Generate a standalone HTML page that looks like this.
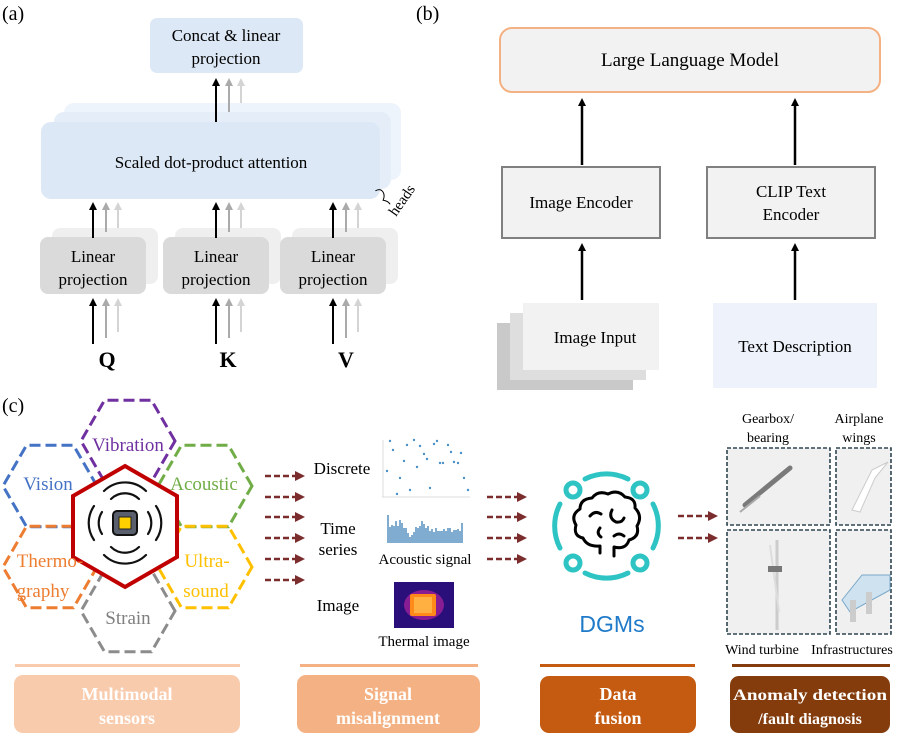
<!DOCTYPE html>
<html><head><meta charset="utf-8"><style>
html,body{margin:0;padding:0;background:#fff}
svg{display:block;font-family:"Liberation Serif",serif}
</style></head><body>
<svg width="897" height="737" viewBox="0 0 897 737" xmlns="http://www.w3.org/2000/svg">
<defs>
<marker id="ab" markerWidth="8" markerHeight="8" refX="4" refY="4" orient="auto" markerUnits="userSpaceOnUse"><path d="M0,0 L8,4 L0,8 z" fill="#000"/></marker>
<marker id="ag" markerWidth="8" markerHeight="8" refX="4" refY="4" orient="auto" markerUnits="userSpaceOnUse"><path d="M0,0 L8,4 L0,8 z" fill="#aaa"/></marker>
<marker id="al" markerWidth="8" markerHeight="8" refX="4" refY="4" orient="auto" markerUnits="userSpaceOnUse"><path d="M0,0 L8,4 L0,8 z" fill="#d4d4d4"/></marker>
<marker id="ar" markerWidth="10" markerHeight="10" refX="2" refY="5" orient="auto" markerUnits="userSpaceOnUse"><path d="M0,0 L10,5 L0,10 z" fill="#7b2c2c"/></marker>
</defs>

<!-- (a) -->
<text x="2" y="20" font-size="20">(a)</text>
<rect x="150" y="18" width="153" height="55" rx="7" fill="#dce8f5"/>
<text x="226" y="41" font-size="17" text-anchor="middle">Concat &amp; linear</text>
<text x="226" y="64" font-size="17" text-anchor="middle">projection</text>
<rect x="64" y="103" width="337" height="77" rx="10" fill="#eef4fb"/>
<rect x="54" y="112" width="337" height="77" rx="10" fill="#e5eef8"/>
<rect x="41" y="122" width="339" height="77" rx="10" fill="#dce8f5"/>
<text x="211" y="168" font-size="17" text-anchor="middle">Scaled dot-product attention</text>
<path d="M380,188 q6,0 6,5 q0,4 -4,7 q4,3 4,7" fill="none" stroke="#000" stroke-width="1" transform="rotate(-30 383 198)"/>
<text x="396" y="217" font-size="15" transform="rotate(-55 396 217)">heads</text>

<g>
<rect x="52" y="228" width="106" height="56" rx="8" fill="#efefef"/>
<rect x="175" y="228" width="106" height="56" rx="8" fill="#efefef"/>
<rect x="292" y="228" width="106" height="56" rx="8" fill="#efefef"/>
<rect x="40" y="237" width="106" height="57" rx="8" fill="#dadada"/>
<rect x="163" y="237" width="106" height="57" rx="8" fill="#dadada"/>
<rect x="280" y="237" width="106" height="57" rx="8" fill="#dadada"/>
<text font-size="17" text-anchor="middle"><tspan x="93" y="262">Linear</tspan><tspan x="93" y="285">projection</tspan></text>
<text font-size="17" text-anchor="middle"><tspan x="216" y="262">Linear</tspan><tspan x="216" y="285">projection</tspan></text>
<text font-size="17" text-anchor="middle"><tspan x="333" y="262">Linear</tspan><tspan x="333" y="285">projection</tspan></text>
</g>
<g stroke-width="2">
<line x1="216" y1="122" x2="216" y2="82" stroke="#000" marker-end="url(#ab)"/>
<line x1="229" y1="112" x2="229" y2="82" stroke="#aaa" marker-end="url(#ag)"/>
<line x1="241" y1="103" x2="241" y2="82" stroke="#d4d4d4" marker-end="url(#al)"/>
<line x1="93" y1="238" x2="93" y2="206" stroke="#000" marker-end="url(#ab)"/>
<line x1="106" y1="232" x2="106" y2="206" stroke="#aaa" marker-end="url(#ag)"/>
<line x1="118" y1="228" x2="118" y2="206" stroke="#d4d4d4" marker-end="url(#al)"/>
<line x1="216" y1="238" x2="216" y2="206" stroke="#000" marker-end="url(#ab)"/>
<line x1="229" y1="232" x2="229" y2="206" stroke="#aaa" marker-end="url(#ag)"/>
<line x1="241" y1="228" x2="241" y2="206" stroke="#d4d4d4" marker-end="url(#al)"/>
<line x1="333" y1="238" x2="333" y2="206" stroke="#000" marker-end="url(#ab)"/>
<line x1="346" y1="232" x2="346" y2="206" stroke="#aaa" marker-end="url(#ag)"/>
<line x1="358" y1="228" x2="358" y2="206" stroke="#d4d4d4" marker-end="url(#al)"/>
<line x1="93" y1="344" x2="93" y2="302" stroke="#000" marker-end="url(#ab)"/>
<line x1="106" y1="338" x2="106" y2="302" stroke="#aaa" marker-end="url(#ag)"/>
<line x1="118" y1="332" x2="118" y2="302" stroke="#d4d4d4" marker-end="url(#al)"/>
<line x1="216" y1="344" x2="216" y2="302" stroke="#000" marker-end="url(#ab)"/>
<line x1="229" y1="338" x2="229" y2="302" stroke="#aaa" marker-end="url(#ag)"/>
<line x1="241" y1="332" x2="241" y2="302" stroke="#d4d4d4" marker-end="url(#al)"/>
<line x1="333" y1="344" x2="333" y2="302" stroke="#000" marker-end="url(#ab)"/>
<line x1="346" y1="338" x2="346" y2="302" stroke="#aaa" marker-end="url(#ag)"/>
<line x1="358" y1="332" x2="358" y2="302" stroke="#d4d4d4" marker-end="url(#al)"/>
</g>
<text x="107" y="367" font-size="22" font-weight="bold" text-anchor="middle">Q</text>
<text x="228" y="367" font-size="22" font-weight="bold" text-anchor="middle">K</text>
<text x="346" y="367" font-size="22" font-weight="bold" text-anchor="middle">V</text>

<!-- (b) -->
<text x="416" y="20" font-size="20">(b)</text>
<rect x="500" y="28" width="380" height="64" rx="12" fill="#f2f2f2" stroke="#f4b183" stroke-width="2"/>
<text x="690" y="66" font-size="19" text-anchor="middle">Large Language Model</text>
<rect x="502" y="167" width="158" height="71" fill="#f2f2f2" stroke="#808080" stroke-width="2"/>
<text x="581" y="208" font-size="17" text-anchor="middle">Image Encoder</text>
<rect x="707" y="167" width="168" height="71" fill="#f2f2f2" stroke="#808080" stroke-width="2"/>
<text x="791" y="197" font-size="17" text-anchor="middle">CLIP Text</text>
<text x="791" y="220" font-size="17" text-anchor="middle">Encoder</text>
<g stroke="#000" stroke-width="2.5">
<line x1="582" y1="165" x2="582" y2="102" marker-end="url(#ab)"/>
<line x1="795" y1="165" x2="795" y2="102" marker-end="url(#ab)"/>
<line x1="582" y1="300" x2="582" y2="247" marker-end="url(#ab)"/>
<line x1="795" y1="300" x2="795" y2="247" marker-end="url(#ab)"/>
</g>
<rect x="497" y="323" width="136" height="67" fill="#c9c9c9"/>
<rect x="510" y="313" width="136" height="67" fill="#dedede"/>
<rect x="523" y="303" width="136" height="67" fill="#f2f2f2"/>
<text x="595" y="343" font-size="17" text-anchor="middle">Image Input</text>
<rect x="713" y="303" width="164" height="85" fill="#eef3fb"/>
<text x="795" y="352" font-size="17" text-anchor="middle">Text Description</text>

<!-- (c) -->
<text x="2" y="412" font-size="20">(c)</text>
<g fill="none" stroke-width="3" stroke-dasharray="11,5">
<polygon points="175,441 151.5,400.3 104.5,400.3 81,441 104.5,481.7 151.5,481.7" stroke="#7030a0"/>
<polygon points="97,486 73.5,445.3 26.5,445.3 3,486 26.5,526.7 73.5,526.7" stroke="#4472c4"/>
<polygon points="252,486 228.5,445.3 181.5,445.3 158,486 181.5,526.7 228.5,526.7" stroke="#70ad47"/>
<polygon points="97,567 73.5,526.3 26.5,526.3 3,567 26.5,607.7 73.5,607.7" stroke="#ed7d31"/>
<polygon points="252,567 228.5,526.3 181.5,526.3 158,567 181.5,607.7 228.5,607.7" stroke="#ffc000"/>
<polygon points="175,611 151.5,570.3 104.5,570.3 81,611 104.5,651.7 151.5,651.7" stroke="#8c8c8c"/>
</g>
<polygon points="125,466 177,496 177,557 125,587 73,557 73,496" fill="#fff" stroke="#c00000" stroke-width="4"/>
<g fill="none" stroke="#111" stroke-width="2.2" stroke-linecap="round">
<path d="M111,499 a20,20 0 0 1 28,0"/><path d="M104,491 a30,30 0 0 1 42,0"/>
<path d="M111,547 a20,20 0 0 0 28,0"/><path d="M104,555 a30,30 0 0 0 42,0"/>
<path d="M102,512 a20,20 0 0 0 0,22"/><path d="M94,506 a30,30 0 0 0 0,34"/>
<path d="M148,512 a20,20 0 0 1 0,22"/><path d="M156,506 a30,30 0 0 1 0,34"/>
</g>
<rect x="113" y="511" width="24" height="24" rx="4" fill="#5a5f6e" stroke="#111" stroke-width="2"/>
<rect x="119" y="517" width="12" height="12" fill="#ffd000" stroke="#222" stroke-width="1"/>
<g font-size="19" text-anchor="middle">
<text x="128" y="451" fill="#7030a0">Vibration</text>
<text x="48" y="490" fill="#4472c4">Vision</text>
<text x="204" y="490" fill="#70ad47">Acoustic</text>
<text x="50" y="567" fill="#ed7d31">Thermo-</text>
<text x="43" y="597" fill="#ed7d31">graphy</text>
<text x="207" y="567" fill="#ffc000">Ultra-</text>
<text x="206" y="597" fill="#ffc000">sound</text>
<text x="128" y="624" fill="#7f7f7f">Strain</text>
</g>

<g stroke="#7b2c2c" stroke-width="2.5" stroke-dasharray="6,3" fill="none">
<line x1="265" y1="476" x2="297" y2="476" marker-end="url(#ar)"/>
<line x1="265" y1="497" x2="297" y2="497" marker-end="url(#ar)"/>
<line x1="265" y1="517" x2="297" y2="517" marker-end="url(#ar)"/>
<line x1="265" y1="538" x2="297" y2="538" marker-end="url(#ar)"/>
<line x1="265" y1="559" x2="297" y2="559" marker-end="url(#ar)"/>
<line x1="265" y1="580" x2="297" y2="580" marker-end="url(#ar)"/>
<line x1="487" y1="497" x2="519" y2="497" marker-end="url(#ar)"/>
<line x1="487" y1="517" x2="519" y2="517" marker-end="url(#ar)"/>
<line x1="487" y1="538" x2="519" y2="538" marker-end="url(#ar)"/>
<line x1="487" y1="559" x2="519" y2="559" marker-end="url(#ar)"/>
<line x1="678" y1="516" x2="710" y2="516" marker-end="url(#ar)"/>
<line x1="678" y1="538" x2="710" y2="538" marker-end="url(#ar)"/>
</g>

<g font-size="17" text-anchor="middle">
<text x="342" y="474">Discrete</text>
<text x="338" y="534">Time</text>
<text x="338" y="555">series</text>
<text x="338" y="611">Image</text>
<text x="425" y="564" font-size="15">Acoustic signal</text>
<text x="424" y="646" font-size="15">Thermal image</text>
</g>
<g fill="#4a90c8">
<line x1="382" y1="497" x2="470" y2="497" stroke="#ddd" stroke-width="1"/>
<line x1="383" y1="440" x2="383" y2="497" stroke="#ddd" stroke-width="1"/>
<circle cx="390" cy="441" r="1.2"/><circle cx="393" cy="450" r="1.2"/><circle cx="407" cy="445" r="1.2"/><circle cx="414" cy="440" r="1.2"/><circle cx="420" cy="446" r="1.2"/><circle cx="434" cy="444" r="1.2"/><circle cx="437" cy="441" r="1.2"/><circle cx="448" cy="445" r="1.2"/><circle cx="451" cy="452" r="1.2"/><circle cx="461" cy="453" r="1.2"/><circle cx="424" cy="454" r="1.2"/><circle cx="404" cy="461" r="1.2"/><circle cx="427" cy="459" r="1.2"/><circle cx="417" cy="467" r="1.2"/><circle cx="440" cy="463" r="1.2"/><circle cx="443" cy="463" r="1.2"/><circle cx="454" cy="462" r="1.2"/><circle cx="458" cy="463" r="1.2"/><circle cx="387" cy="471" r="1.2"/><circle cx="400" cy="478" r="1.2"/><circle cx="464" cy="478" r="1.2"/><circle cx="397" cy="494" r="1.2"/><circle cx="410" cy="490" r="1.2"/><circle cx="430" cy="488" r="1.2"/><circle cx="468" cy="490" r="1.2"/>
</g>
<g stroke="#3b7fb6" stroke-width="1.3">
<path d="M388,543V515 M390,543V527 M392,543V525 M394,543V526 M396,543V521 M398,543V526 M400,543V520 M402,543V523 M404,543V528 M406,543V528 M408,543V533 M410,543V537 M412,543V535 M414,543V532 M416,543V527 M418,543V528 M420,543V526 M422,543V521 M424,543V524 M426,543V528 M428,543V526 M430,543V531 M432,543V529 M434,543V532 M436,543V528 M438,543V531 M440,543V531 M442,543V531 M444,543V529 M446,543V531 M448,543V528 M450,543V528 M452,543V532 M454,543V530 M456,543V530 M458,543V529 M460,543V531 M462,543V523"/>
</g>
<rect x="394" y="582" width="60" height="46" fill="#2a0f7a"/>
<ellipse cx="424" cy="605" rx="20" ry="15" fill="#a0209a" opacity="0.8"/>
<rect x="410" y="594" width="26" height="22" rx="2" fill="#ff8a1a"/>
<rect x="414" y="597" width="18" height="16" fill="#ffb040"/>

<g fill="none" stroke="#2ec4c4" stroke-width="5" stroke-linecap="round">
<path d="M585,479 A48,48 0 0 1 628,479"/>
<path d="M585,573 A48,48 0 0 0 628,573"/>
<path d="M560,504 A48,48 0 0 0 560,548"/>
<path d="M653,504 A48,48 0 0 1 653,548"/>
<circle cx="573" cy="490" r="7"/><circle cx="640" cy="490" r="7"/>
<circle cx="573" cy="563" r="7"/><circle cx="640" cy="563" r="7"/>
</g>
<g fill="none" stroke="#000" stroke-width="3" stroke-linecap="round" stroke-linejoin="round">
<path d="M600,553 L600,546 Q587,547 583,538 Q573,536 576,525 Q570,515 580,509 Q580,499 592,498 Q598,490 608,494 Q618,489 625,497 Q636,498 635,508 Q643,516 637,526 Q640,537 629,540 Q626,550 614,547 L614,556"/>
<path d="M590,516 q5,-6 11,-2"/><path d="M612,510 q-4,8 4,12 q6,1 8,-4"/><path d="M600,528 q-4,5 1,9"/><path d="M614,536 q5,-4 10,0"/>
</g>
<text x="612" y="632" font-size="23" fill="#1f7ac9" text-anchor="middle" font-family="Liberation Sans, sans-serif">DGMs</text>

<g font-size="14" text-anchor="middle">
<text x="768" y="423">Gearbox/</text><text x="768" y="442">bearing</text>
<text x="859" y="423">Airplane</text><text x="859" y="442">wings</text>
<text x="762" y="654">Wind turbine</text><text x="852" y="654">Infrastructures</text>
</g>
<g fill="#f0f0f0" stroke="#2f4550" stroke-width="1.6" stroke-dasharray="4,2">
<rect x="727" y="448" width="103" height="77"/>
<rect x="836" y="448" width="55" height="77"/>
<rect x="727" y="530" width="103" height="104"/>
<rect x="836" y="530" width="55" height="104"/>
</g>
<g stroke="#7a7a7a" stroke-width="5" stroke-linecap="round"><line x1="745" y1="505" x2="790" y2="468"/></g>
<g stroke="#aaa" stroke-width="2"><line x1="740" y1="512" x2="760" y2="496"/></g>
<path d="M852,510 L872,470 L888,462 L875,478 L860,512 z" fill="#fff" stroke="#ccc"/>
<line x1="777" y1="540" x2="777" y2="630" stroke="#ccc" stroke-width="3"/>
<line x1="770" y1="545" x2="779" y2="612" stroke="#ddd" stroke-width="2"/>
<rect x="768" y="566" width="14" height="6" fill="#777"/>
<path d="M842,600 L862,575 L890,575 L890,590 L850,612 z" fill="#cfe2f0" stroke="#7aa8c8"/>
<rect x="850" y="600" width="6" height="22" fill="#ccc"/><rect x="866" y="592" width="6" height="22" fill="#ccc"/>

<rect x="15" y="664" width="225" height="3" fill="#f8cbad"/>
<rect x="300" y="664" width="178" height="3" fill="#f4b183"/>
<rect x="540" y="664" width="155" height="3" fill="#c55a11"/>
<rect x="732" y="664" width="158" height="3" fill="#843c0c"/>
<rect x="14" y="675" width="226" height="58" rx="9" fill="#f8cbad"/>
<rect x="297" y="675" width="183" height="58" rx="9" fill="#f4b183"/>
<rect x="540" y="676" width="156" height="57" rx="9" fill="#c55a11"/>
<rect x="730" y="676" width="160" height="57" rx="9" fill="#843c0c"/>
<g fill="#fff" font-weight="bold" font-size="18" text-anchor="middle">
<text x="127" y="700">Multimodal</text><text x="127" y="724">sensors</text>
<text x="388" y="700">Signal</text><text x="388" y="724">misalignment</text>
<text x="618" y="700">Data</text><text x="618" y="724">fusion</text>
<text x="810" y="700" font-size="16" textLength="154" lengthAdjust="spacingAndGlyphs">Anomaly detection</text>
<text x="810" y="724" font-size="16">/fault diagnosis</text>
</g>
</svg>
</body></html>
